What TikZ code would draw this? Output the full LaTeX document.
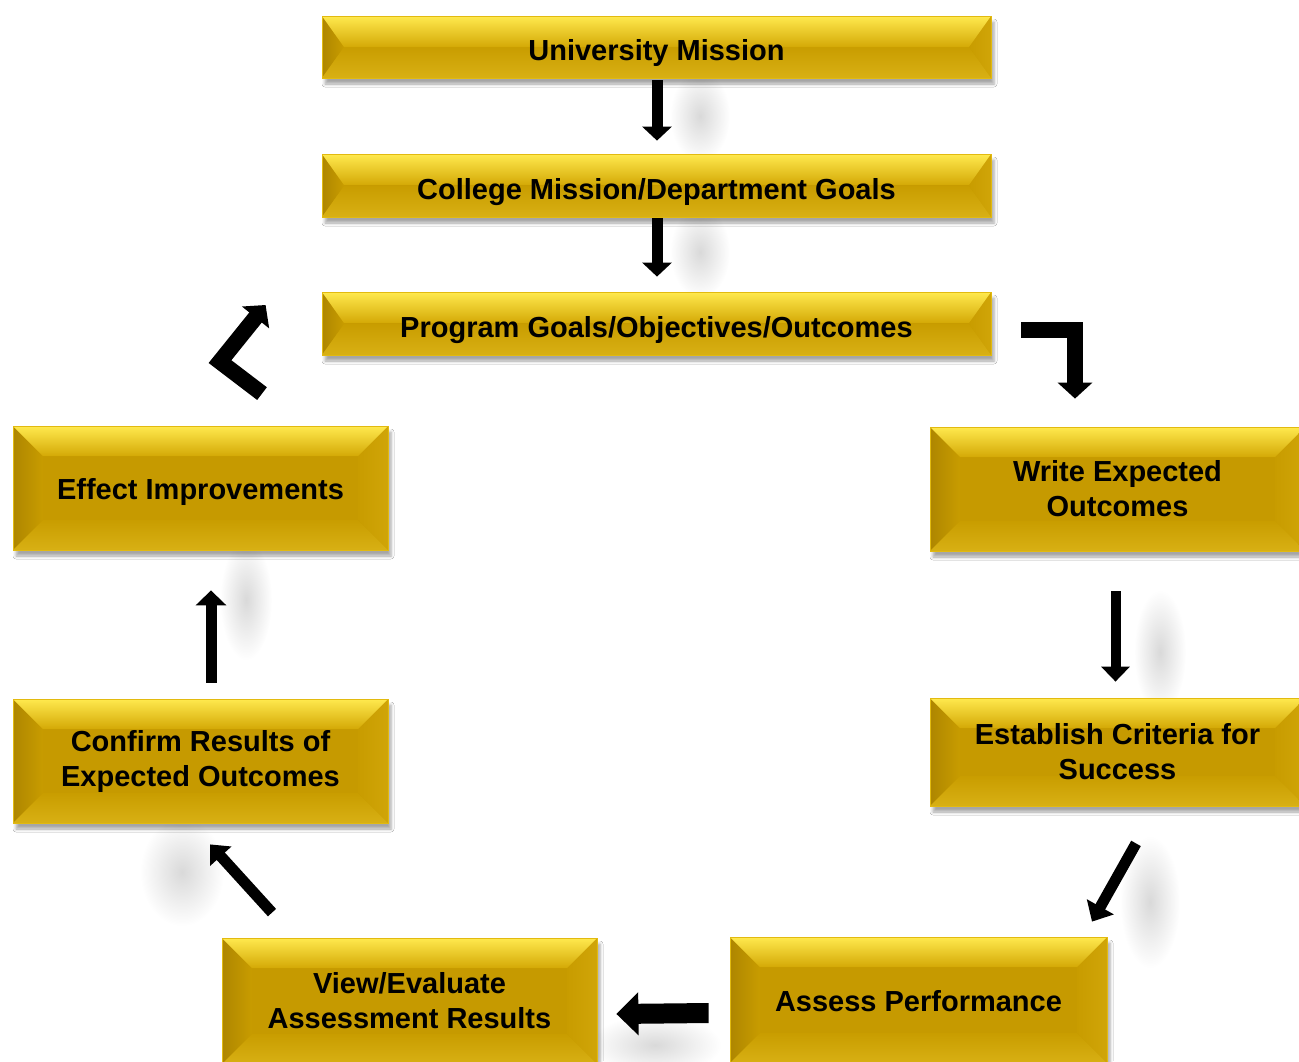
\documentclass[tikz,border=0pt]{standalone}
\usepackage{fontspec}
\setmainfont{Liberation Sans}
\usetikzlibrary{arrows.meta,calc,shadows.blur,fadings}

\definecolor{gface}{HTML}{C69A00}
\definecolor{gedge}{HTML}{E2BA10}
\definecolor{gtopA}{HTML}{FFE94E}
\definecolor{gtopB}{HTML}{D4A906}
\definecolor{gbotA}{HTML}{C99D00}
\definecolor{gbotB}{HTML}{D8B014}
\definecolor{gleftA}{HTML}{AE8600}
\definecolor{gleftB}{HTML}{C89C00}
\definecolor{grightA}{HTML}{C89C00}
\definecolor{grightB}{HTML}{D0A508}

\newcommand\boxfont{\fontsize{29}{35}\selectfont\bfseries}

% radial fade used for the soft grey smudges
\tikzfading[name=softblob, inner color=transparent!0, outer color=transparent!100]

\tikzset{
  % bevelled gold box: #1 = horizontal bevel, #2 = vertical bevel
  gbox/.style 2 args={
    rectangle, inner sep=0pt, align=center, font=\boxfont, text=black,
    fill=gface, draw=gedge, line width=0.8pt,
    blur shadow={shadow xshift=3pt, shadow yshift=-6pt,
                 shadow blur radius=3pt, shadow opacity=35},
    path picture={
      \coordinate (pNW) at (path picture bounding box.north west);
      \coordinate (pNE) at (path picture bounding box.north east);
      \coordinate (pSE) at (path picture bounding box.south east);
      \coordinate (pSW) at (path picture bounding box.south west);
      \coordinate (qNW) at ($(pNW)+(#1,#2)$);
      \coordinate (qNE) at ($(pNE)+(-#1,#2)$);
      \coordinate (qSE) at ($(pSE)+(-#1,-#2)$);
      \coordinate (qSW) at ($(pSW)+(#1,-#2)$);
      \shade[left color=gleftA, right color=gleftB]
        (pNW) -- (qNW) -- (qSW) -- (pSW) -- cycle;
      \shade[left color=grightA, right color=grightB]
        (pNE) -- (qNE) -- (qSE) -- (pSE) -- cycle;
      \shade[top color=gbotA, bottom color=gbotB]
        (pSW) -- (qSW) -- (qSE) -- (pSE) -- cycle;
      \shade[top color=gtopA, bottom color=gtopB]
        (pNW) -- (qNW) -- (qNE) -- (pNE) -- cycle;
    }
  },
  wide/.style={gbox={22}{31}, minimum width=669pt, text height=33pt, text depth=6pt},
  tall/.style={gbox={30}{30}, minimum width=375pt},
  oneline/.style={text height=29pt, text depth=6pt},
  blk/.style={draw=black, line width=#1, line join=miter, line cap=butt},
  haze/.style={fill=black, fill opacity=0.15, path fading=softblob},
}

\begin{document}
\begin{tikzpicture}[x=1pt, y=-1pt]
  \clip (0,0) rectangle (1299,1061);
  \fill[white] (0,0) rectangle (1299,1061);

  % soft shading beside the arrows
  \fill[haze] (700,116) ellipse [x radius=30pt, y radius=46pt];
  \fill[haze] (700,252) ellipse [x radius=30pt, y radius=46pt];
  \fill[haze] (1160,652) ellipse [x radius=26pt, y radius=62pt];
  \fill[haze] (1150,902) ellipse [x radius=30pt, y radius=66pt];
  \fill[haze] (246,600) ellipse [x radius=26pt, y radius=60pt];
  \fill[haze] (182,872) ellipse [x radius=42pt, y radius=54pt];
  \fill[haze] (655,1045) ellipse [x radius=66pt, y radius=30pt];

  % top chain
  \node[wide, minimum height=62pt] (um) at (656.5,47) {University Mission};
  \node[wide, minimum height=63pt] (cm) at (656.5,185.5) {College Mission/Department Goals};
  \node[wide, minimum height=63pt] (pg) at (656.5,323.5) {Program Goals/Objectives/Outcomes};

  % cycle
  \node[tall, oneline, minimum height=124pt] (ei) at (200.5,488) {Effect Improvements};
  \node[tall, minimum height=124pt] (we) at (1117.5,489) {Write Expected\\Outcomes};
  \node[tall, minimum height=124pt] (cr) at (200.5,761) {Confirm Results of\\Expected Outcomes};
  \node[tall, minimum height=108pt] (ec) at (1117.5,752) {Establish Criteria for\\Success};
  \node[tall, minimum height=126pt] (ve) at (409.5,1001) {View/Evaluate\\Assessment Results};
  \node[tall, oneline, minimum width=377pt, minimum height=126pt] (ap) at (918.5,1000) {Assess Performance};

  % block arrows
  \draw[blk=11pt, -{Triangle[length=14pt,width=29pt]}]
    ($(um.south)+(0.5,2)$) -- ($(cm.north)+(0.5,-13)$);
  \draw[blk=11pt, -{Triangle[length=14pt,width=29pt]}]
    ($(cm.south)+(0.5,1)$) -- ($(pg.north)+(0.5,-15)$);

  \draw[blk=16pt, -{Triangle[length=16pt,width=34pt]}]
    ($(pg.east)+(30,6.5)$) -| ($(we.north)+(-42.5,-28)$);

  \coordinate (c4) at ($(ei.north)+(19.5,-64)$);
  \draw[blk=16pt, -{Triangle[length=16pt,width=34pt]}]
    ($(ei.north)+(61.5,-32)$) -- (c4) -- ($(pg.west)+(-56,-18.5)$);

  \draw[blk=10pt, -{Triangle[length=15pt,width=28pt]}]
    ($(we.south)+(-2,40)$) -- ($(ec.north)+(-2,-16)$);

  \draw[blk=11pt, -{Triangle[length=17pt,width=30pt]}]
    ($(ec.south)+(18.5,37)$) -- ($(ap.north)+(173.5,-15)$);

  \draw[blk=20pt, -{Triangle[length=22pt,width=42pt]}]
    ($(ap.west)+(-21,13)$) -- ($(ve.east)+(19,13)$);

  \draw[blk=11pt, -{Triangle[length=16pt,width=28pt]}]
    ($(ve.north)+(-137.5,-25)$) -- ($(cr.south)+(9.5,21)$);

  \draw[blk=11pt, -{Triangle[length=15pt,width=30pt]}]
    ($(cr.north)+(10.5,-16)$) -- ($(ei.south)+(10.5,40)$);
\end{tikzpicture}
\end{document}
